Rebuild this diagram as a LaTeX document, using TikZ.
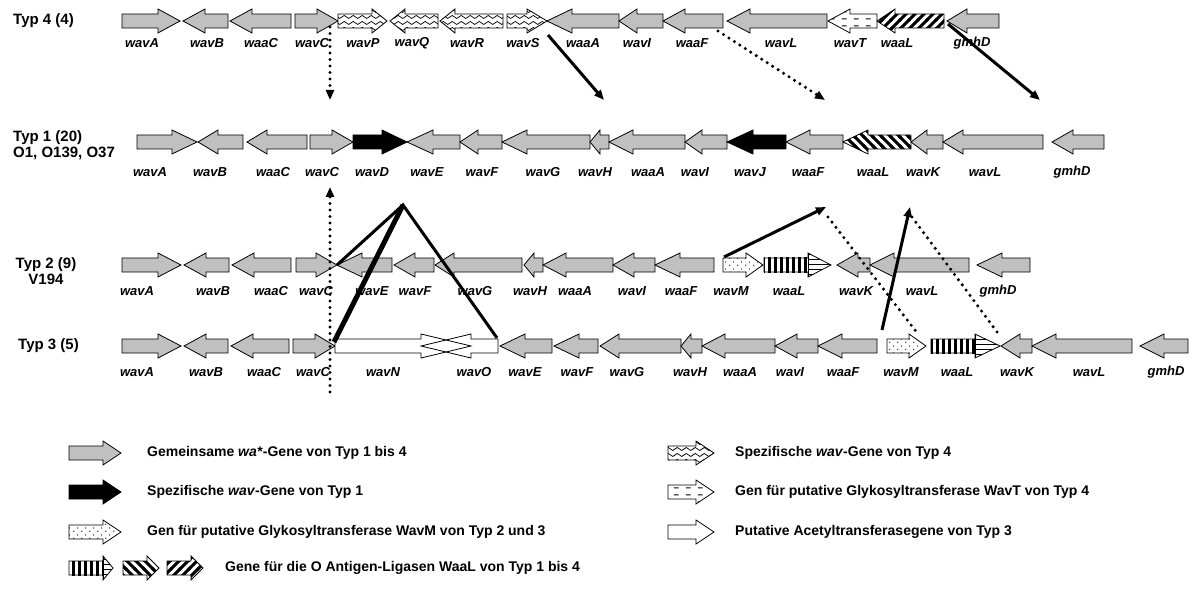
\documentclass[tikz,border=0pt]{standalone}
\usepackage{fontspec}
\setmainfont{Liberation Sans}
\usetikzlibrary{arrows.meta,patterns}

% fill patterns for the gene arrows
\pgfdeclarepatternformonly{wavy}{\pgfpoint{-1pt}{-1pt}}{\pgfpoint{10pt}{7pt}}{\pgfpoint{9pt}{6pt}}{%
  \pgfsetlinewidth{0.7pt}%
  \pgfpathmoveto{\pgfpoint{0pt}{3pt}}%
  \pgfpathcurveto{\pgfpoint{1.5pt}{5pt}}{\pgfpoint{3pt}{5pt}}{\pgfpoint{4.5pt}{3pt}}%
  \pgfpathcurveto{\pgfpoint{6pt}{1pt}}{\pgfpoint{7.5pt}{1pt}}{\pgfpoint{9pt}{3pt}}%
  \pgfusepath{stroke}}
\pgfdeclarepatternformonly{hdash}{\pgfpoint{0pt}{0pt}}{\pgfpoint{12pt}{7pt}}{\pgfpoint{12pt}{7pt}}{%
  \pgfsetlinewidth{1.2pt}%
  \pgfpathmoveto{\pgfpoint{2pt}{3.5pt}}\pgfpathlineto{\pgfpoint{7pt}{3.5pt}}%
  \pgfusepath{stroke}}
\pgfdeclarepatternformonly{fewdots}{\pgfpoint{0pt}{0pt}}{\pgfpoint{8pt}{7pt}}{\pgfpoint{8pt}{7pt}}{%
  \pgfpathcircle{\pgfpoint{2pt}{2pt}}{0.7pt}%
  \pgfpathcircle{\pgfpoint{6pt}{5.5pt}}{0.7pt}%
  \pgfusepath{fill}}
\pgfdeclarepatternformonly{slash}{\pgfpoint{-2pt}{-2pt}}{\pgfpoint{11pt}{11pt}}{\pgfpoint{9pt}{9pt}}{%
  \pgfsetlinewidth{3pt}%
  \pgfpathmoveto{\pgfpoint{-1pt}{-1pt}}\pgfpathlineto{\pgfpoint{10pt}{10pt}}%
  \pgfusepath{stroke}}
\pgfdeclarepatternformonly{backslash}{\pgfpoint{-2pt}{-2pt}}{\pgfpoint{11pt}{11pt}}{\pgfpoint{9pt}{9pt}}{%
  \pgfsetlinewidth{3pt}%
  \pgfpathmoveto{\pgfpoint{-1pt}{10pt}}\pgfpathlineto{\pgfpoint{10pt}{-1pt}}%
  \pgfusepath{stroke}}
\pgfdeclarepatternformonly{vbars}{\pgfpoint{0pt}{-1pt}}{\pgfpoint{6pt}{7pt}}{\pgfpoint{6pt}{6pt}}{%
  \pgfsetlinewidth{3pt}%
  \pgfpathmoveto{\pgfpoint{1.5pt}{-1pt}}\pgfpathlineto{\pgfpoint{1.5pt}{7pt}}%
  \pgfusepath{stroke}}
\pgfdeclarepatternformonly{hbars}{\pgfpoint{-1pt}{0pt}}{\pgfpoint{7pt}{5pt}}{\pgfpoint{6pt}{5pt}}{%
  \pgfsetlinewidth{1.6pt}%
  \pgfpathmoveto{\pgfpoint{-1pt}{1.5pt}}\pgfpathlineto{\pgfpoint{7pt}{1.5pt}}%
  \pgfusepath{stroke}}

\definecolor{genegray}{RGB}{192,192,192}

% gene arrows: style, start/tip, head base, end/tip, row y
\newcommand{\geneR}[5]{\draw[gene,#1] (#2,#5-7) -- (#3,#5-7) -- (#3,#5-12) -- (#4,#5) -- (#3,#5+12) -- (#3,#5+7) -- (#2,#5+7) -- cycle;}
\newcommand{\geneL}[5]{\draw[gene,#1] (#2,#5) -- (#3,#5-12) -- (#3,#5-7) -- (#4,#5-7) -- (#4,#5+7) -- (#3,#5+7) -- (#3,#5+12) -- cycle;}
% ligase with barred body and striped head
\newcommand{\ligase}[4]{%
  \fill[white] (#1,#4-7) rectangle (#2,#4+7) (#2,#4-12) -- (#3,#4) -- (#2,#4+12) -- cycle;
  \fill[pattern=vbars] (#1,#4-7) rectangle (#2,#4+7);
  \fill[pattern=hbars] (#2,#4-12) -- (#3,#4) -- (#2,#4+12) -- cycle;
  \geneR{draw=black}{#1}{#2}{#3}{#4}
  \draw[gene] (#2,#4-12) -- (#2,#4+12);}

\begin{document}
\begin{tikzpicture}[x=1pt, y=-1pt,
    gene/.style={draw=black, line width=0.8pt, line join=miter},
    com/.style={fill=genegray},
    blk/.style={fill=black},
    spec/.style={preaction={fill=white}, pattern=wavy},
    wavt/.style={preaction={fill=white}, pattern=hdash},
    wavm/.style={preaction={fill=white}, pattern=fewdots},
    ligfw/.style={preaction={fill=white}, pattern=slash},
    ligbw/.style={preaction={fill=white}, pattern=backslash},
    acet/.style={fill=white},
    lbl/.style={font=\fontsize{13}{14}\selectfont\bfseries\itshape, inner sep=0pt},
    rowlbl/.style={font=\fontsize{15}{16}\selectfont\bfseries, inner sep=0pt},
    legtxt/.style={font=\fontsize{14}{15}\selectfont\bfseries, inner sep=0pt, anchor=west},
    link/.style={line width=3pt},
    linkthick/.style={line width=5pt},
    dots/.style={line width=3.4pt, line cap=round, dash pattern=on 0pt off 6.5pt},
    tip/.style={-{Triangle[length=10pt,width=8pt]}}
]
\useasboundingbox (0,0) rectangle (1189,596);

% Typ 4
\node[rowlbl, anchor=west] (typ4) at (13,21) {Typ 4 (4)};
\geneR{com}{122}{158}{180}{21}
\geneL{com}{183}{205}{228}{21}
\geneL{com}{230}{252}{291}{21}
\geneR{com}{295}{317}{338}{21}
\geneR{spec}{338}{372}{387}{21}
\geneL{spec}{390}{405}{438}{21}
\geneL{spec}{440}{455}{503}{21}
\geneR{spec}{507}{527}{547}{21}
\geneL{com}{547}{572}{619}{21}
\geneL{com}{619}{637}{663}{21}
\geneL{com}{663}{685}{723}{21}
\geneL{com}{727}{750}{827}{21}
\geneL{wavt}{828}{850}{877}{21}
\geneL{ligfw}{877}{895}{944}{21}
\geneL{com}{947}{967}{999}{21}
\foreach \x/\g in {142/wavA,207/wavB,261/waaC,312/wavC,363/wavP,412/wavQ,467/wavR,523/wavS,
    583/waaA,637/wavI,692/waaF,781/wavL,850/wavT,897/waaL,972/gmhD}
  \node[lbl] (t4\g) at (\x,43) {\g};

% Typ 1
\node[rowlbl, anchor=west, align=left] (typ1) at (13,145) {Typ 1 (20)\\O1, O139, O37};
\geneR{com}{137}{172}{197}{142}
\geneL{com}{198}{218}{243}{142}
\geneL{com}{247}{267}{307}{142}
\geneR{com}{310}{332}{353}{142}
\geneR{blk}{353}{382}{407}{142}
\geneL{com}{407}{433}{460}{142}
\geneL{com}{460}{478}{502}{142}
\geneL{com}{502}{527}{590}{142}
\geneL{com}{590}{600}{609}{142}
\geneL{com}{609}{633}{685}{142}
\geneL{com}{685}{702}{727}{142}
\geneL{blk}{727}{753}{786}{142}
\geneL{com}{786}{810}{843}{142}
\geneL{ligbw}{843}{868}{911}{142}
\geneL{com}{911}{927}{943}{142}
\geneL{com}{943}{963}{1043}{142}
\geneL{com}{1052}{1073}{1104}{142}
\foreach \x/\g in {150/wavA,210/wavB,273/waaC,322/wavC,372/wavD,427/wavE,482/wavF,543/wavG,
    595/wavH,648/waaA,695/wavI,750/wavJ,808/waaF,873/waaL,923/wavK,985/wavL,1072/gmhD}
  \node[lbl] (t1\g) at (\x,172) {\g};

% Typ 2
\node[rowlbl, align=center] (typ2) at (46,271) {Typ 2 (9)\\V194};
\geneR{com}{122}{158}{181}{265}
\geneL{com}{184}{206}{229}{265}
\geneL{com}{232}{254}{291}{265}
\geneR{com}{296}{316}{337}{265}
\geneL{com}{337}{362}{392}{265}
\geneL{com}{394}{415}{434}{265}
\geneL{com}{435}{454}{522}{265}
\geneL{com}{524}{534}{543}{265}
\geneL{com}{543}{566}{613}{265}
\geneL{com}{613}{634}{655}{265}
\geneL{com}{655}{680}{714}{265}
\geneR{wavm}{723}{746}{763}{265}
\ligase{764}{808}{831}{265}
\geneL{com}{837}{858}{870}{265}
\geneL{com}{870}{894}{969}{265}
\geneL{com}{977}{1002}{1030}{265}
\foreach \x/\g in {137/wavA,213/wavB,271/waaC,316/wavC,372/wavE,415/wavF,475/wavG,530/wavH,
    575/waaA,632/wavI,681/waaF,731/wavM,789/waaL,856/wavK,922/wavL,998/gmhD}
  \node[lbl] (t2\g) at (\x,291) {\g};

% Typ 3
\node[rowlbl, anchor=west] (typ3) at (18,346) {Typ 3 (5)};
\geneR{com}{122}{158}{181}{346}
\geneL{com}{184}{206}{228}{346}
\geneL{com}{231}{253}{289}{346}
\geneR{com}{293}{315}{335}{346}
\fill[white] (335,339) rectangle (498,353);
\geneR{acet, fill=none}{335}{421}{471}{346}
\geneL{acet, fill=none}{421}{471}{498}{346}
\geneL{com}{500}{525}{552}{346}
\geneL{com}{554}{579}{598}{346}
\geneL{com}{600}{619}{681}{346}
\geneL{com}{681}{691}{702}{346}
\geneL{com}{702}{725}{775}{346}
\geneL{com}{775}{797}{818}{346}
\geneL{com}{818}{842}{877}{346}
\geneR{wavm}{887}{909}{926}{346}
\ligase{931}{975}{1000}{346}
\geneL{com}{1001}{1020}{1032}{346}
\geneL{com}{1032}{1056}{1132}{346}
\geneL{com}{1140}{1164}{1188}{346}
\foreach \x/\g in {137/wavA,206/wavB,264/waaC,313/wavC,383/wavN,474/wavO,525/wavE,577/wavF,
    627/wavG,690/wavH,740/waaA,790/wavI,843/waaF,901/wavM,957/waaL,1017/wavK,1089/wavL,1166/gmhD}
  \node[lbl] (t3\g) at (\x,372) {\g};

% connectors
\coordinate (c4C) at (330,27);   \coordinate (c1Ca) at (330,100);
\coordinate (c3C) at (330,392);  \coordinate (c1Cb) at (330,187);
\coordinate (c4S) at (548,35);   \coordinate (c1H) at (604,100);
\coordinate (c4F) at (718,31);   \coordinate (c1Fa) at (825,100);
\coordinate (c4G) at (948,24);   \coordinate (c1G) at (1040,100);
\coordinate (c1D) at (403,205);
\coordinate (c2C) at (337,265);  \coordinate (c3N) at (334,342);  \coordinate (c3O) at (497,338);
\coordinate (c2M) at (724,257);  \coordinate (c1Fb) at (826,207);
\coordinate (c1Fc) at (828,217); \coordinate (c3M) at (918,334);
\coordinate (c3F) at (882,330);  \coordinate (c1La) at (910,207);
\coordinate (c1Lb) at (912,217); \coordinate (c3L) at (1000,336);

\draw[dots, tip] (c4C) -- (c1Ca);
\draw[dots, tip] (c3C) -- (c1Cb);
\draw[link, tip] (c4S) -- (c1H);
\draw[dots, tip] (c4F) -- (c1Fa);
\draw[link, tip] (c4G) -- (c1G);
\draw[link, line join=miter] (c2C) -- (c1D) -- (c3O);
\draw[linkthick] (c3N) -- (c1D);
\draw[link, tip] (c2M) -- (c1Fb);
\draw[dots] (c1Fc) -- (c3M);
\draw[link, tip] (c3F) -- (c1La);
\draw[dots] (c1Lb) -- (c3L);

% legend
\geneR{com}{69}{103}{121}{453}
\node[legtxt] (leg1) at (147,453) {Gemeinsame \textit{wa*}-Gene von Typ 1 bis 4};
\geneR{blk}{69}{103}{121}{492}
\node[legtxt] (leg2) at (147,492) {Spezifische \textit{wav}-Gene von Typ 1};
\geneR{wavm}{69}{103}{121}{532}
\node[legtxt] (leg3) at (147,532) {Gen für putative Glykosyltransferase WavM von Typ 2 und 3};
\ligase{69}{103}{113}{568}
\geneR{ligbw}{123}{147}{159}{568}
\geneR{ligfw}{167}{191}{203}{568}
\node[legtxt] (leg4) at (225,568) {Gene für die O Antigen-Ligasen WaaL von Typ 1 bis 4};
\geneR{spec}{668}{696}{714}{453}
\node[legtxt] (leg5) at (735,453) {Spezifische \textit{wav}-Gene von Typ 4};
\geneR{wavt}{668}{696}{714}{492}
\node[legtxt] (leg6) at (735,492) {Gen für putative Glykosyltransferase WavT von Typ 4};
\geneR{acet}{668}{696}{714}{532}
\node[legtxt] (leg7) at (735,532) {Putative Acetyltransferasegene von Typ 3};
\end{tikzpicture}
\end{document}
